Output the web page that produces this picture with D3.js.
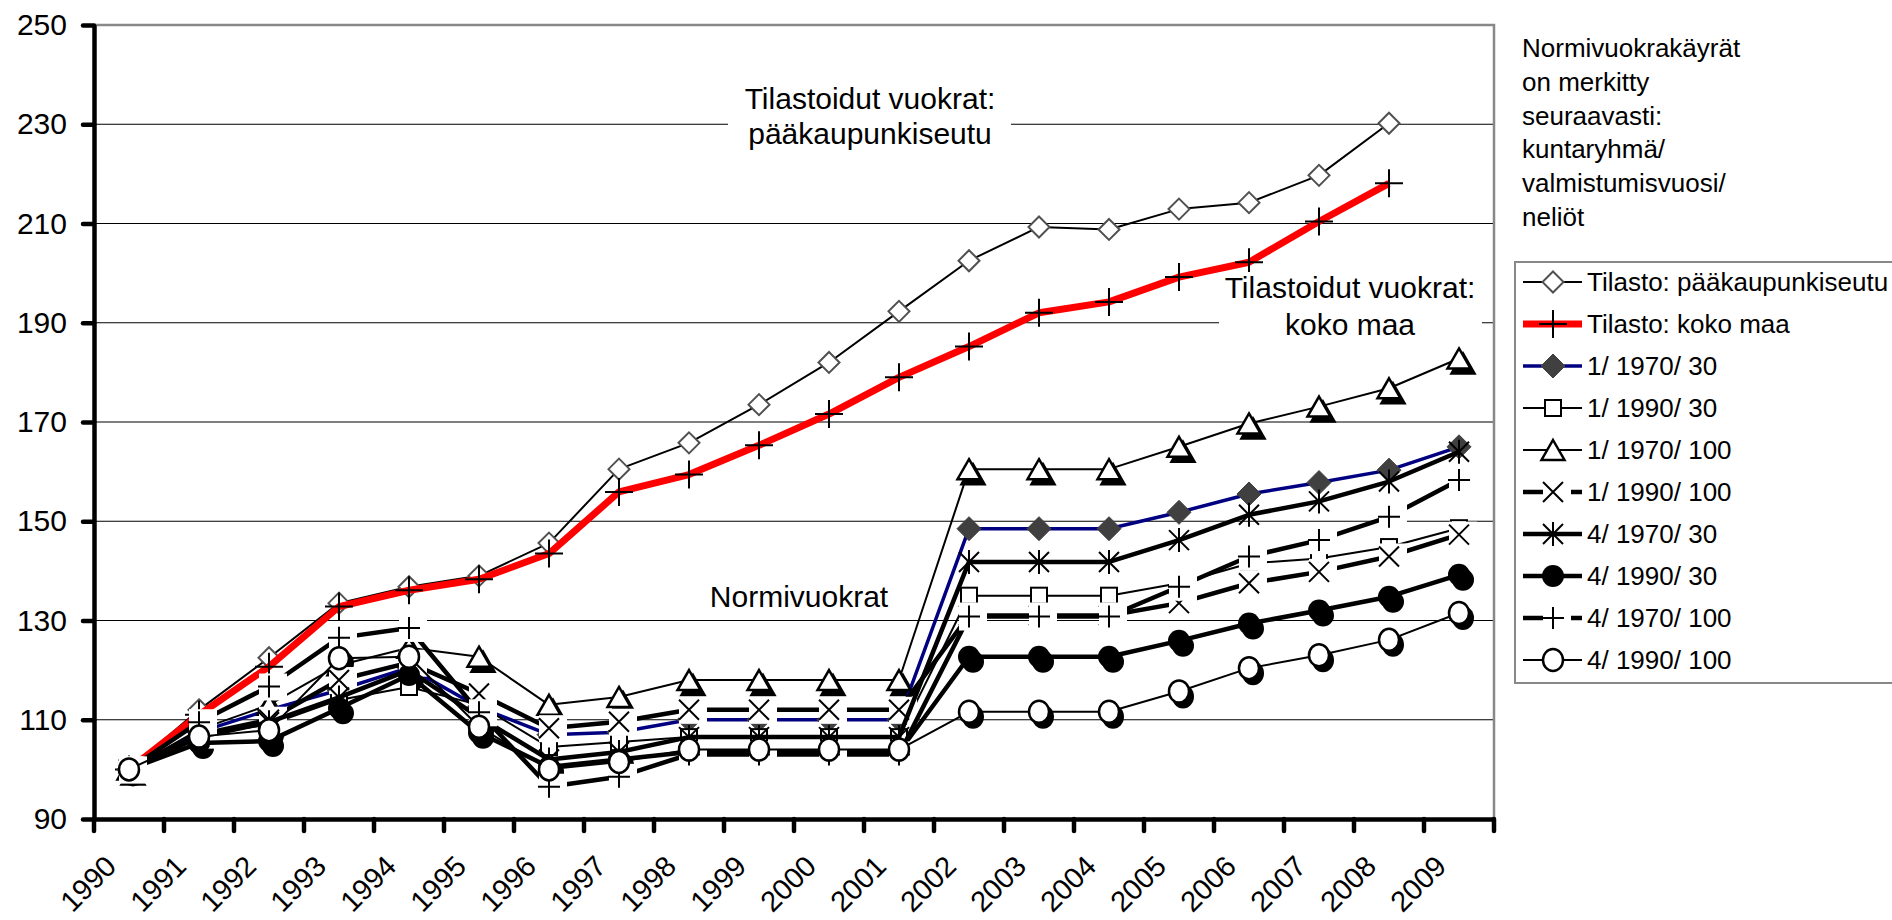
<!DOCTYPE html>
<html>
<head>
<meta charset="utf-8">
<script src="https://cdnjs.cloudflare.com/ajax/libs/d3/7.8.5/d3.min.js"></script>
<style>
  body { margin: 0; background: #fff; }
  svg text { font-family: "Liberation Sans", Arial, sans-serif; fill: #000; }
</style>
</head>
<body>
<div id="chart"></div>
<script>
// categories
var years = ["1990", "1991", "1992", "1993", "1994", "1995", "1996", "1997", "1998", "1999",
             "2000", "2001", "2002", "2003", "2004", "2005", "2006", "2007", "2008", "2009"];
var yTicks = [90, 110, 130, 150, 170, 190, 210, 230, 250];

// Tilastoidut vuokrat
var tilastoPk   = [100, 112, 122.5, 133.5, 136.8, 139, 145.6, 160.5, 165.8, 173.5, 182, 192.3, 202.5, 209.3, 208.8, 212.9, 214.2, 219.7, 230.2, null];
var tilastoKoko = [100, 111, 120.7, 132.8, 136.1, 138.3, 143.5, 155.9, 159.4, 165.3, 171.6, 179, 185.2, 192, 194.2, 199.2, 202.2, 210.4, 218.1, null];

// Normivuokrat: kuntaryhmä / valmistumisvuosi / neliöt
var n1_1970_30  = [100, 107.5, 112, 116, 120.5, 112.5, 107, 107.5, 110, 110, 110, 110, 148.5, 148.5, 148.5, 151.8, 155.5, 157.8, 160.3, 165];
var n1_1990_30  = [100, 107, 109, 114, 116.6, 113, 104.5, 105.5, 106.5, 106.5, 106.5, 106.5, 135, 135, 135, 137.5, 141.5, 142.5, 144.8, 148.6];
var n1_1970_100 = [100, 108, 113, 121, 124.5, 122.7, 113, 114.6, 118, 118, 118, 118, 160.5, 160.5, 160.5, 165, 169.7, 173.1, 176.8, 182.8];
var n1_1990_100 = [100, 107, 110, 118, 121.5, 115.3, 108.3, 109.6, 112, 112, 112, 112, 131, 131, 131, 133.5, 137.5, 139.8, 142.9, 147.3];
var n4_1970_30  = [100, 106.5, 109.5, 114.5, 120, 110.5, 102, 103.5, 106.5, 106.5, 106.5, 106.5, 141.8, 141.8, 141.8, 146.2, 151.3, 154, 158, 164];
var n4_1990_30  = [100, 105.3, 105.7, 112.3, 119, 107.4, 100.5, 102, 103.5, 103.5, 103.5, 103.5, 122.7, 122.7, 122.7, 125.9, 129.4, 132, 134.8, 139.2];
var n4_1970_100 = [100, 109.5, 116.7, 126.5, 128.5, 111.5, 96.5, 98.5, 103, 103, 103, 103, 130.8, 130.8, 130.8, 136.8, 142.9, 146.2, 150.9, 158.3];
var n4_1990_100 = [100, 106.6, 107.9, 122.4, 122.7, 108.6, 100, 101.5, 104, 104, 104, 104, 111.6, 111.6, 111.6, 115.7, 120.4, 123, 126.1, 131.5];

var seriesNames = ["Tilasto: pääkaupunkiseutu", "Tilasto: koko maa", "1/ 1970/ 30", "1/ 1990/ 30",
                   "1/ 1970/ 100", "1/ 1990/ 100", "4/ 1970/ 30", "4/ 1990/ 30", "4/ 1970/ 100", "4/ 1990/ 100"];

var noteLines = ["Normivuokrakäyrät", "on merkitty", "seuraavasti:", "kuntaryhmä/", "valmistumisvuosi/", "neliöt"];

function normChart()
{
  var width = 1892;
  var height = 920;

  var svg = d3.select("#chart")
              .append("svg")
              .attr("width", width)
              .attr("height", height)
              .style("background", "#fff");

  var x = d3.scaleBand().domain(years).range([94, 1494]);
  var y = d3.scaleLinear().domain([90, 250]).range([819, 25]);
  var cx = function(i) { return x(years[i]) + x.bandwidth() / 2; };

  var series = [
    {name: seriesNames[0], values: tilastoPk,   color: "#000",    lw: 2,   marker: "diamondOpen"},
    {name: seriesNames[1], values: tilastoKoko, color: "#ff0000", lw: 7,   marker: "plusBig"},
    {name: seriesNames[2], values: n1_1970_30,  color: "#000080", lw: 3.5, marker: "diamond"},
    {name: seriesNames[3], values: n1_1990_30,  color: "#000",    lw: 2,   marker: "square"},
    {name: seriesNames[4], values: n1_1970_100, color: "#000",    lw: 2,   marker: "triangle", shadow: true},
    {name: seriesNames[5], values: n1_1990_100, color: "#000",    lw: 4.5, marker: "x"},
    {name: seriesNames[6], values: n4_1970_30,  color: "#000",    lw: 4.5, marker: "star"},
    {name: seriesNames[7], values: n4_1990_30,  color: "#000",    lw: 4.5, marker: "dot", shadow: true},
    {name: seriesNames[8], values: n4_1970_100, color: "#000",    lw: 4.5, marker: "plus"},
    {name: seriesNames[9], values: n4_1990_100, color: "#000",    lw: 2,   marker: "circle", shadow: true}
  ];

  // grid
  svg.append("g")
    .selectAll("line")
    .data(yTicks.filter(function(d) { return d > 90 && d < 250; }))
    .enter().append("line")
    .attr("x1", 94).attr("x2", 1494)
    .attr("y1", function(d) { return y(d); })
    .attr("y2", function(d) { return y(d); })
    .attr("stroke", "#000")
    .attr("stroke-width", 1.2);

  // plot border (top / right)
  svg.append("path")
    .attr("d", "M94," + y(250) + " H1494 V" + y(90))
    .attr("fill", "none")
    .attr("stroke", "#888")
    .attr("stroke-width", 2.5);

  function drawShadow(g, type, px, py)
  {
    var m = g.append("g").attr("transform", "translate(" + (px + 4) + "," + (py + 5) + ")");
    if (type == "triangle") {
      m.append("path").attr("d", "M0,-10L11.5,10L-11.5,10Z")
        .attr("fill", "#000").attr("stroke", "#000").attr("stroke-width", 2.5);
    } else if (type == "dot") {
      m.append("circle").attr("r", 11).attr("fill", "#000");
    } else if (type == "circle") {
      m.append("ellipse").attr("rx", 11).attr("ry", 12).attr("fill", "#000");
    }
  }

  function drawMarker(g, type, px, py)
  {
    var m = g.append("g").attr("transform", "translate(" + px + "," + py + ")");
    if (type == "diamondOpen") {
      m.append("path").attr("d", "M0,-10.5L10.5,0L0,10.5L-10.5,0Z")
        .attr("fill", "#fff").attr("stroke", "#505050").attr("stroke-width", 2);
    } else if (type == "diamond") {
      m.append("path").attr("d", "M0,-12L12,0L0,12L-12,0Z")
        .attr("fill", "#404040").attr("stroke", "#404040").attr("stroke-width", 1);
    } else if (type == "square") {
      m.append("rect").attr("x", -8).attr("y", -8).attr("width", 16).attr("height", 16)
        .attr("fill", "#fff").attr("stroke", "#000").attr("stroke-width", 2);
    } else if (type == "triangle") {
      m.append("path").attr("d", "M0,-10L11.5,10L-11.5,10Z")
        .attr("fill", "#fff").attr("stroke", "#000").attr("stroke-width", 2.5);
    } else if (type == "x") {
      m.append("rect").attr("x", -10).attr("y", -13).attr("width", 28).attr("height", 27).attr("fill", "#fff");
      m.append("path").attr("d", "M-10,-10L10,10M-10,10L10,-10")
        .attr("stroke", "#000").attr("stroke-width", 2);
    } else if (type == "star") {
      m.append("path").attr("d", "M-10,-10L10,10M-10,10L10,-10M0,-12V12")
        .attr("stroke", "#000").attr("stroke-width", 2);
    } else if (type == "plus") {
      m.append("rect").attr("x", -10).attr("y", -13).attr("width", 28).attr("height", 27).attr("fill", "#fff");
      m.append("path").attr("d", "M-11,0H11M0,-11V11")
        .attr("stroke", "#000").attr("stroke-width", 2);
    } else if (type == "plusBig") {
      m.append("path").attr("d", "M-14,0H14M0,-14V14")
        .attr("stroke", "#000").attr("stroke-width", 2);
    } else if (type == "dot") {
      m.append("circle").attr("r", 11).attr("fill", "#000");
    } else if (type == "circle") {
      m.append("ellipse").attr("rx", 10).attr("ry", 11)
        .attr("fill", "#fff").attr("stroke", "#000").attr("stroke-width", 2.5);
    }
  }

  // marker shadows sit underneath every series
  var shadows = svg.append("g");
  var lines = svg.append("g");

  series.forEach(function(s) {
    var pts = s.values.map(function(v, i) { return {i: i, v: v}; })
                      .filter(function(d) { return d.v != null; });

    if (s.shadow) {
      pts.forEach(function(d) { drawShadow(shadows, s.marker, cx(d.i), y(d.v)); });
    }

    var g = lines.append("g");
    g.append("path")
      .datum(pts)
      .attr("fill", "none")
      .attr("stroke", s.color)
      .attr("stroke-width", s.lw)
      .attr("stroke-linejoin", "round")
      .attr("d", d3.line()
        .x(function(d) { return cx(d.i); })
        .y(function(d) { return y(d.v); })
      );

    pts.forEach(function(d) {
      drawMarker(g, s.marker, cx(d.i), y(d.v));
    });
  });

  // annotation boxes
  svg.append("rect").attr("x", 728).attr("y", 72).attr("width", 283).attr("height", 85).attr("fill", "#fff");
  svg.append("rect").attr("x", 1219).attr("y", 272).attr("width", 263).attr("height", 74).attr("fill", "#fff");

  var notes = svg.append("g").style("font-size", "30px").attr("text-anchor", "middle");
  notes.append("text").attr("x", 870).attr("y", 109).text("Tilastoidut vuokrat:");
  notes.append("text").attr("x", 870).attr("y", 144).text("pääkaupunkiseutu");
  notes.append("text").attr("x", 1350).attr("y", 298).text("Tilastoidut vuokrat:");
  notes.append("text").attr("x", 1350).attr("y", 335).text("koko maa");
  notes.append("text").attr("x", 799).attr("y", 607).text("Normivuokrat");

  // Y axis
  var yAxis = svg.append("g")
    .attr("transform", "translate(94,0)")
    .call(d3.axisLeft(y).tickValues(yTicks).tickSize(11).tickSizeOuter(0).tickPadding(16));
  yAxis.select(".domain").attr("stroke", "#000").attr("stroke-width", 4.5);
  yAxis.selectAll(".tick line").attr("stroke-width", 4.5).attr("stroke-linecap", "round");
  yAxis.selectAll(".tick text")
    .style("font-family", "'Liberation Sans', Arial, sans-serif")
    .style("font-size", "30px")
    .attr("fill", "#000");

  // X axis
  var xAxis = svg.append("g")
    .attr("transform", "translate(0,819)")
    .call(d3.axisBottom(x).tickSize(0).tickSizeOuter(0).tickFormat(""));
  xAxis.select(".domain").attr("stroke", "#000").attr("stroke-width", 4.5);

  var edges = years.map(function(d) { return x(d); }).concat([x.range()[1]]);
  xAxis.selectAll(".edge")
    .data(edges)
    .enter().append("line")
    .attr("class", "edge")
    .attr("x1", function(d) { return d; }).attr("x2", function(d) { return d; })
    .attr("y1", 0).attr("y2", 12)
    .attr("stroke", "#000").attr("stroke-width", 4.5).attr("stroke-linecap", "round");

  svg.append("g")
    .selectAll("text")
    .data(years)
    .enter().append("text")
    .attr("transform", function(d, i) { return "translate(" + (cx(i) - 11) + ",868) rotate(-45)"; })
    .attr("text-anchor", "end")
    .style("font-size", "29px")
    .text(function(d) { return d; });

  // explanation text
  svg.append("g")
    .selectAll("text")
    .data(noteLines)
    .enter().append("text")
    .attr("x", 1522)
    .attr("y", function(d, i) { return 57 + i * 33.8; })
    .style("font-size", "26px")
    .text(function(d) { return d; });

  // Legend
  var legend = svg.append("g");
  legend.append("rect")
    .attr("x", 1515).attr("y", 262).attr("width", 420).attr("height", 421)
    .attr("fill", "#fff").attr("stroke", "#888").attr("stroke-width", 2);

  series.forEach(function(s, i) {
    var ly = 282 + i * 42;
    legend.append("line")
      .attr("x1", 1523).attr("x2", 1582).attr("y1", ly).attr("y2", ly)
      .attr("stroke", s.color).attr("stroke-width", s.lw);
    drawMarker(legend, s.marker, 1553, ly);
    legend.append("text")
      .attr("x", 1587).attr("y", ly + 9.3)
      .style("font-size", "26px")
      .text(s.name);
  });
}

normChart();
</script>
</body>
</html>
